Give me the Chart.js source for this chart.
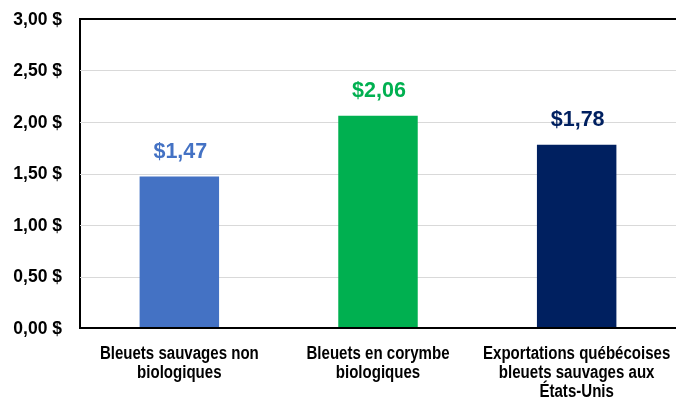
<!DOCTYPE html>
<html>
<head>
<meta charset="utf-8">
<script src="https://cdn.jsdelivr.net/npm/chart.js@4.4.1/dist/chart.umd.min.js"></script>
<style>
html,body{margin:0;padding:0;overflow:hidden;background:#fff;}
#wrap{width:676px;height:400px;position:relative;}
</style>
</head>
<body>
<div id="wrap"><canvas id="c"></canvas></div>
<script>
const categories = [
  ["Bleuets sauvages non", "biologiques"],
  ["Bleuets en corymbe", "biologiques"],
  ["Exportations québécoises", "bleuets sauvages aux", "États-Unis"]
];
const prices = [1.47, 2.06, 1.78];
const barColors = ["#4472C4", "#00B050", "#002060"];
const yTicks = [0, 0.5, 1, 1.5, 2, 2.5, 3];

const fmtTick = v => v.toFixed(2).replace('.', ',') + ' $';
const fmtLabel = v => '$' + v.toFixed(2).replace('.', ',');
const FAMILY = '"Liberation Sans", Arial, sans-serif';

const gridPlugin = {
  id: 'gridPlugin',
  beforeDatasetsDraw(chart) {
    const ctx = chart.ctx;
    const ys = chart.scales.y;
    const a = chart.chartArea;
    ctx.save();
    yTicks.forEach(v => {
      if (v === 0) return;
      const y = Math.round(ys.getPixelForValue(v));
      const top = v === yTicks[yTicks.length - 1];
      ctx.strokeStyle = top ? '#000' : '#d9d9d9';
      ctx.lineWidth = top ? 2 : 1;
      ctx.beginPath();
      ctx.moveTo(a.left, top ? y : y + 0.5);
      ctx.lineTo(chart.width, top ? y : y + 0.5);
      ctx.stroke();
    });
    ctx.restore();
  }
};

const textPlugin = {
  id: 'textPlugin',
  afterDraw(chart) {
    const ctx = chart.ctx;
    const xs = chart.scales.x, ys = chart.scales.y;
    const a = chart.chartArea;
    ctx.save();
    // bottom axis line across full width
    ctx.strokeStyle = '#000';
    ctx.lineWidth = 2;
    ctx.beginPath();
    ctx.moveTo(a.left - 1, Math.round(a.bottom));
    ctx.lineTo(chart.width, Math.round(a.bottom));
    ctx.stroke();
    const meta = chart.getDatasetMeta(0);
    ctx.font = 'bold 21.5px ' + FAMILY;
    ctx.textAlign = 'center';
    ctx.textBaseline = 'middle';
    meta.data.forEach((bar, i) => {
      ctx.fillStyle = barColors[i];
      ctx.fillText(fmtLabel(prices[i]), bar.x + 1, bar.y - 25);
    });
    ctx.fillStyle = '#000';
    ctx.font = 'bold 17.5px ' + FAMILY;
    ctx.textAlign = 'right';
    ctx.textBaseline = 'middle';
    yTicks.forEach(v => {
      ctx.fillText(fmtTick(v), ys.left + ys.width - 18, ys.getPixelForValue(v) + 1);
    });
    ctx.font = 'bold 17.5px ' + FAMILY;
    ctx.textAlign = 'center';
    ctx.textBaseline = 'alphabetic';
    categories.forEach((lines, i) => {
      const cx = xs.getPixelForValue(i);
      lines.forEach((line, j) => {
        ctx.save();
        ctx.translate(cx, xs.top + 31 + j * 19);
        ctx.scale(0.86, 1);
        ctx.fillText(line, 0, 0);
        ctx.restore();
      });
    });
    ctx.restore();
  }
};

new Chart(document.getElementById('c'), {
  type: 'bar',
  data: {
    labels: categories.map(l => l.join(' ')),
    datasets: [{
      data: prices,
      backgroundColor: barColors,
      borderWidth: 0,
      barPercentage: 0.4,
      categoryPercentage: 1.0
    }]
  },
  options: {
    responsive: true,
    maintainAspectRatio: false,
    animation: false,
    devicePixelRatio: 1,
    layout: { padding: { top: 19, right: -2, left: 0, bottom: 0 } },
    plugins: { legend: { display: false }, tooltip: { enabled: false }, title: { display: false } },
    scales: {
      x: {
        grid: { display: false, drawTicks: false },
        border: { color: '#000', width: 2 },
        ticks: { display: false },
        afterFit(scale) { scale.height = 72; }
      },
      y: {
        min: 0, max: 3,
        afterBuildTicks(scale) { scale.ticks = yTicks.map(v => ({ value: v })); },
        grid: { display: false, drawTicks: false },
        border: { color: '#000', width: 2 },
        ticks: { display: false },
        afterFit(scale) { scale.width = 80; }
      }
    }
  },
  plugins: [gridPlugin, textPlugin]
});
</script>
</body>
</html>
